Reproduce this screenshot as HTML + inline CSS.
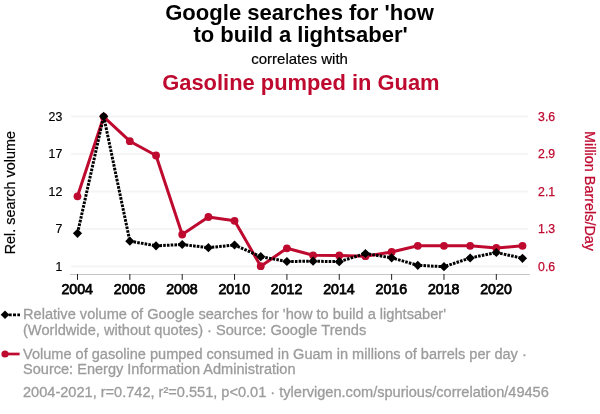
<!DOCTYPE html>
<html><head><meta charset="utf-8"><title>chart</title><style>html,body{margin:0;padding:0;background:#fff;width:600px;height:414px;overflow:hidden}</style></head><body>
<svg width="600" height="414" viewBox="0 0 600 414" style="position:absolute;left:0;top:0;filter:blur(0.35px);font-family:'Liberation Sans',sans-serif">
<rect width="600" height="414" fill="#fff"/>
<line x1="71" x2="528.2" y1="116.39999999999999" y2="116.39999999999999" stroke="#f5f5f5" stroke-width="2"/>
<line x1="71" x2="528.2" y1="153.9" y2="153.9" stroke="#f5f5f5" stroke-width="2"/>
<line x1="71" x2="528.2" y1="191.4" y2="191.4" stroke="#f5f5f5" stroke-width="2"/>
<line x1="71" x2="528.2" y1="228.9" y2="228.9" stroke="#f5f5f5" stroke-width="2"/>
<line x1="71" x2="528.2" y1="266.40000000000003" y2="266.40000000000003" stroke="#f5f5f5" stroke-width="2"/>
<line x1="70.1" x2="529.8" y1="274.5" y2="274.5" stroke="#c4c4c4" stroke-width="1"/>
<line x1="77.50" x2="77.50" y1="274" y2="279.9" stroke="#222" stroke-width="1"/>
<text x="77.20" y="294.45" font-size="14.2" text-anchor="middle" fill="#000" stroke="#000" stroke-width="0.75">2004</text>
<line x1="129.85" x2="129.85" y1="274" y2="279.9" stroke="#222" stroke-width="1"/>
<text x="129.55" y="294.45" font-size="14.2" text-anchor="middle" fill="#000" stroke="#000" stroke-width="0.75">2006</text>
<line x1="182.21" x2="182.21" y1="274" y2="279.9" stroke="#222" stroke-width="1"/>
<text x="181.91" y="294.45" font-size="14.2" text-anchor="middle" fill="#000" stroke="#000" stroke-width="0.75">2008</text>
<line x1="234.56" x2="234.56" y1="274" y2="279.9" stroke="#222" stroke-width="1"/>
<text x="234.26" y="294.45" font-size="14.2" text-anchor="middle" fill="#000" stroke="#000" stroke-width="0.75">2010</text>
<line x1="286.91" x2="286.91" y1="274" y2="279.9" stroke="#222" stroke-width="1"/>
<text x="286.61" y="294.45" font-size="14.2" text-anchor="middle" fill="#000" stroke="#000" stroke-width="0.75">2012</text>
<line x1="339.26" x2="339.26" y1="274" y2="279.9" stroke="#222" stroke-width="1"/>
<text x="338.96" y="294.45" font-size="14.2" text-anchor="middle" fill="#000" stroke="#000" stroke-width="0.75">2014</text>
<line x1="391.62" x2="391.62" y1="274" y2="279.9" stroke="#222" stroke-width="1"/>
<text x="391.32" y="294.45" font-size="14.2" text-anchor="middle" fill="#000" stroke="#000" stroke-width="0.75">2016</text>
<line x1="443.97" x2="443.97" y1="274" y2="279.9" stroke="#222" stroke-width="1"/>
<text x="443.67" y="294.45" font-size="14.2" text-anchor="middle" fill="#000" stroke="#000" stroke-width="0.75">2018</text>
<line x1="496.32" x2="496.32" y1="274" y2="279.9" stroke="#222" stroke-width="1"/>
<text x="496.02" y="294.45" font-size="14.2" text-anchor="middle" fill="#000" stroke="#000" stroke-width="0.75">2020</text>
<text x="62.3" y="120.8" font-size="12.3" text-anchor="end" fill="#000" stroke="#000" stroke-width="0.2">23</text>
<text x="62.3" y="158.3" font-size="12.3" text-anchor="end" fill="#000" stroke="#000" stroke-width="0.2">17</text>
<text x="62.3" y="195.8" font-size="12.3" text-anchor="end" fill="#000" stroke="#000" stroke-width="0.2">12</text>
<text x="62.3" y="233.3" font-size="12.3" text-anchor="end" fill="#000" stroke="#000" stroke-width="0.2">7</text>
<text x="62.3" y="270.8" font-size="12.3" text-anchor="end" fill="#000" stroke="#000" stroke-width="0.2">1</text>
<text x="538.1" y="120.8" font-size="12.3" text-anchor="start" fill="#bf0a30" stroke="#bf0a30" stroke-width="0.25">3.6</text>
<text x="538.1" y="158.3" font-size="12.3" text-anchor="start" fill="#bf0a30" stroke="#bf0a30" stroke-width="0.25">2.9</text>
<text x="538.1" y="195.8" font-size="12.3" text-anchor="start" fill="#bf0a30" stroke="#bf0a30" stroke-width="0.25">2.1</text>
<text x="538.1" y="233.3" font-size="12.3" text-anchor="start" fill="#bf0a30" stroke="#bf0a30" stroke-width="0.25">1.3</text>
<text x="538.1" y="270.8" font-size="12.3" text-anchor="start" fill="#bf0a30" stroke="#bf0a30" stroke-width="0.25">0.6</text>
<polyline points="77.50,196.3 103.68,116.8 129.85,141.2 156.03,155.5 182.21,234.5 208.38,217.0 234.56,220.8 260.74,266.2 286.91,248.3 313.09,255.3 339.26,255.5 365.44,256.2 391.62,252.0 417.79,245.8 443.97,245.8 470.15,245.8 496.32,248.0 522.50,245.8" fill="none" stroke="#bf0a30" stroke-width="3" stroke-linejoin="round"/>
<circle cx="77.50" cy="196.3" r="3.9" fill="#bf0a30"/>
<circle cx="103.68" cy="116.8" r="3.9" fill="#bf0a30"/>
<circle cx="129.85" cy="141.2" r="3.9" fill="#bf0a30"/>
<circle cx="156.03" cy="155.5" r="3.9" fill="#bf0a30"/>
<circle cx="182.21" cy="234.5" r="3.9" fill="#bf0a30"/>
<circle cx="208.38" cy="217.0" r="3.9" fill="#bf0a30"/>
<circle cx="234.56" cy="220.8" r="3.9" fill="#bf0a30"/>
<circle cx="260.74" cy="266.2" r="3.9" fill="#bf0a30"/>
<circle cx="286.91" cy="248.3" r="3.9" fill="#bf0a30"/>
<circle cx="313.09" cy="255.3" r="3.9" fill="#bf0a30"/>
<circle cx="339.26" cy="255.5" r="3.9" fill="#bf0a30"/>
<circle cx="365.44" cy="256.2" r="3.9" fill="#bf0a30"/>
<circle cx="391.62" cy="252.0" r="3.9" fill="#bf0a30"/>
<circle cx="417.79" cy="245.8" r="3.9" fill="#bf0a30"/>
<circle cx="443.97" cy="245.8" r="3.9" fill="#bf0a30"/>
<circle cx="470.15" cy="245.8" r="3.9" fill="#bf0a30"/>
<circle cx="496.32" cy="248.0" r="3.9" fill="#bf0a30"/>
<circle cx="522.50" cy="245.8" r="3.9" fill="#bf0a30"/>
<polyline points="77.50,233.3 103.68,116.3 129.85,241.2 156.03,245.8 182.21,244.5 208.38,247.7 234.56,245.0 260.74,256.7 286.91,261.5 313.09,261.2 339.26,261.7 365.44,253.5 391.62,257.8 417.79,265.3 443.97,266.7 470.15,258.0 496.32,252.5 522.50,258.3" fill="none" stroke="#000" stroke-width="3" stroke-dasharray="2.6 1.15" stroke-linejoin="round"/>
<path d="M72.90 233.3L77.50 228.70000000000002L82.10 233.3L77.50 237.9Z" fill="#000"/>
<path d="M99.08 116.3L103.68 111.7L108.28 116.3L103.68 120.89999999999999Z" fill="#000"/>
<path d="M125.25 241.2L129.85 236.6L134.45 241.2L129.85 245.79999999999998Z" fill="#000"/>
<path d="M151.43 245.8L156.03 241.20000000000002L160.63 245.8L156.03 250.4Z" fill="#000"/>
<path d="M177.61 244.5L182.21 239.9L186.81 244.5L182.21 249.1Z" fill="#000"/>
<path d="M203.78 247.7L208.38 243.1L212.98 247.7L208.38 252.29999999999998Z" fill="#000"/>
<path d="M229.96 245.0L234.56 240.4L239.16 245.0L234.56 249.6Z" fill="#000"/>
<path d="M256.14 256.7L260.74 252.1L265.34 256.7L260.74 261.3Z" fill="#000"/>
<path d="M282.31 261.5L286.91 256.9L291.51 261.5L286.91 266.1Z" fill="#000"/>
<path d="M308.49 261.2L313.09 256.59999999999997L317.69 261.2L313.09 265.8Z" fill="#000"/>
<path d="M334.66 261.7L339.26 257.09999999999997L343.86 261.7L339.26 266.3Z" fill="#000"/>
<path d="M360.84 253.5L365.44 248.9L370.04 253.5L365.44 258.1Z" fill="#000"/>
<path d="M387.02 257.8L391.62 253.20000000000002L396.22 257.8L391.62 262.40000000000003Z" fill="#000"/>
<path d="M413.19 265.3L417.79 260.7L422.39 265.3L417.79 269.90000000000003Z" fill="#000"/>
<path d="M439.37 266.7L443.97 262.09999999999997L448.57 266.7L443.97 271.3Z" fill="#000"/>
<path d="M465.55 258.0L470.15 253.4L474.75 258.0L470.15 262.6Z" fill="#000"/>
<path d="M491.72 252.5L496.32 247.9L500.92 252.5L496.32 257.1Z" fill="#000"/>
<path d="M517.90 258.3L522.50 253.70000000000002L527.10 258.3L522.50 262.90000000000003Z" fill="#000"/>
<text x="299.55" y="19.5" font-size="22.06" font-weight="bold" text-anchor="middle" fill="#000">Google searches for 'how</text>
<text x="300.6" y="41.6" font-size="22" font-weight="bold" text-anchor="middle" fill="#000">to build a lightsaber'</text>
<text x="299.6" y="64.2" font-size="15" text-anchor="middle" fill="#000" stroke="#000" stroke-width="0.2">correlates with</text>
<text x="300.9" y="89.95" font-size="21.9" font-weight="bold" text-anchor="middle" fill="#bf0a30">Gasoline pumped in Guam</text>
<text transform="translate(15.3,192.7) rotate(-90)" font-size="14.4" text-anchor="middle" fill="#000" stroke="#000" stroke-width="0.2">Rel. search volume</text>
<text transform="translate(584.5,191) rotate(90)" font-size="14.4" text-anchor="middle" fill="#bf0a30" stroke="#bf0a30" stroke-width="0.25">Million Barrels/Day</text>
<line x1="5.4" x2="20" y1="314.8" y2="314.8" stroke="#000" stroke-width="2.7" stroke-dasharray="3 1.3" stroke-dashoffset="1"/>
<path d="M0.70 314.8L5.00 310.5L9.30 314.8L5.00 319.1Z" fill="#000"/>
<line x1="5" x2="19.6" y1="354" y2="354" stroke="#bf0a30" stroke-width="2.7"/>
<circle cx="5" cy="354" r="3.6" fill="#bf0a30"/>
<text id="L0" x="23.0" y="319.0" font-size="14.62" fill="#9c9c9c" stroke="#9c9c9c" stroke-width="0.3">Relative volume of Google searches for 'how to build a lightsaber'</text>
<text id="L1" x="23.0" y="335.3" font-size="14.61" fill="#9c9c9c" stroke="#9c9c9c" stroke-width="0.3">(Worldwide, without quotes) · Source: Google Trends</text>
<text id="L2" x="23.0" y="358.65" font-size="14.55" fill="#9c9c9c" stroke="#9c9c9c" stroke-width="0.3">Volume of gasoline pumped consumed in Guam in millions of barrels per day ·</text>
<text id="L3" x="23.0" y="374.45" font-size="14.55" fill="#9c9c9c" stroke="#9c9c9c" stroke-width="0.3">Source: Energy Information Administration</text>
<text id="L4" x="23.0" y="397.3" font-size="14.57" fill="#9c9c9c" stroke="#9c9c9c" stroke-width="0.3">2004-2021, r=0.742, r²=0.551, p&lt;0.01 · tylervigen.com/spurious/correlation/49456</text>
</svg>
</body></html>
